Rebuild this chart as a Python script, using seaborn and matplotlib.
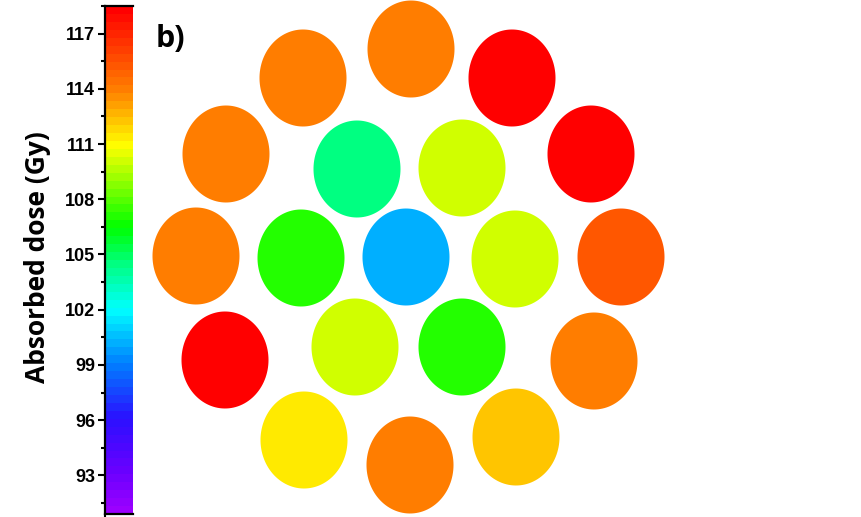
import matplotlib
matplotlib.use("Agg")
import matplotlib.pyplot as plt
import seaborn as sns
import numpy as np
from matplotlib.colors import LinearSegmentedColormap, Normalize
from matplotlib.cm import ScalarMappable
from matplotlib.path import Path
from matplotlib.ticker import MultipleLocator

sns.set_style("white")
plt.rcParams["font.family"] = ["Liberation Sans", "DejaVu Sans"]
plt.rcParams["text.color"] = "black"

# sample positions (picture units, y downwards) and absorbed dose per position
pos_x = [411, 303, 512, 226, 357, 462, 591, 196, 301, 406, 515, 621,
         225, 355, 462, 594, 304, 410, 516]
pos_y = [49, 78, 78, 154, 169, 168, 154, 256, 258, 257, 259, 257,
         360, 347, 347, 361, 440, 465, 437]
dose = [114.0, 114.0, 118.2, 114.0, 104.4, 110.0, 118.2, 114.0, 107.0, 100.3,
        110.0, 115.2, 118.2, 110.0, 107.0, 114.0, 111.2, 114.0, 112.3]

dose_min, dose_max = 90.9, 118.5
cbar_ticks = [93, 96, 99, 102, 105, 108, 111, 114, 117]

# rainbow scale like the original
anchors = [(90.9, "#9b00ff"), (93.0, "#6a00ff"), (96.0, "#2a10ff"),
           (99.0, "#0080ff"), (102.0, "#00ffff"), (104.5, "#00ff80"),
           (106.5, "#00ff00"), (111.0, "#ffff00"), (114.0, "#ff8000"),
           (118.5, "#ff0000")]
cmap = LinearSegmentedColormap.from_list(
    "dose", [((v - dose_min) / (dose_max - dose_min), c) for v, c in anchors], N=64)
norm = Normalize(dose_min, dose_max)

t = np.linspace(0, 2 * np.pi, 120)
ellipse = Path(np.column_stack([0.897 * np.cos(t), np.sin(t)]), closed=True)

fig = plt.figure(figsize=(8.62, 5.17), dpi=100)
ax = fig.add_axes([0, 0, 1, 1])
sns.scatterplot(x=pos_x, y=pos_y, hue=dose, palette=cmap, hue_norm=norm,
                marker=ellipse, s=(97 * 0.72) ** 2, linewidth=0,
                legend=False, ax=ax)
ax.set_xlim(0, 862)
ax.set_ylim(517, 0)
ax.axis("off")

cax = fig.add_axes([105 / 862, 3 / 517, 28 / 862, 508 / 517])
cbar = fig.colorbar(ScalarMappable(norm=norm, cmap=cmap), cax=cax)
cbar.outline.set_visible(False)
for side in ["left", "top", "bottom"]:
    cax.spines[side].set_visible(True)
    cax.spines[side].set_color("black")
    cax.spines[side].set_linewidth(1.6)
cax.yaxis.set_ticks_position("left")
cbar.set_ticks(cbar_ticks)
cax.yaxis.set_minor_locator(MultipleLocator(1.5))
cax.tick_params(axis="y", which="major", length=5, width=1.5, pad=2,
                labelsize=13, direction="out", colors="black")
cax.tick_params(axis="y", which="minor", length=3, width=1.5, direction="out",
                colors="black")
for lab in cax.get_yticklabels():
    lab.set_fontweight("bold")
cax.set_xticks([0])
cax.set_xticklabels([])
cax.tick_params(axis="x", which="major", length=3, width=1.5, direction="out",
                bottom=True, colors="black")

fig.text(38 / 862, 1 - 257 / 517, "Absorbed dose (Gy)", rotation=90,
         ha="center", va="center", fontsize=19, fontweight="bold",
         color="black", family=["Open Sans", "DejaVu Sans"])
fig.text(156 / 862, 1 - 47 / 517, "b)", ha="left", va="baseline",
         fontsize=22, fontweight="bold", color="black",
         family=["Open Sans", "DejaVu Sans"])

fig.savefig("out.png", dpi=100)
